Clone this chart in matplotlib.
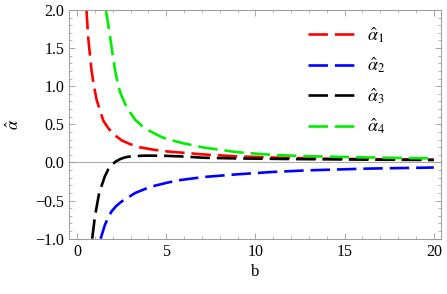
import numpy as np
import matplotlib.pyplot as plt
from matplotlib.ticker import MultipleLocator

# values
b_red = [0.53, 0.62, 0.81, 0.95, 1.10, 1.47, 1.75, 2.03, 2.5, 2.98, 3.5, 4.29, 5.24, 5.8, 7.12, 9.0, 11.45, 14.0, 17.0, 20.0]
a_red = [2.0, 1.65, 1.21, 1.0, 0.82, 0.55, 0.45, 0.375, 0.29, 0.24, 0.2, 0.167, 0.14, 0.13, 0.105, 0.08, 0.062, 0.05, 0.042, 0.036]

b_blue = [1.32, 1.56, 1.75, 1.94, 2.2, 2.51, 3.26, 4.1, 5.05, 5.8, 7.12, 9.0, 10.9, 12.96, 16.35, 20.0]
a_blue = [-1.0, -0.82, -0.72, -0.64, -0.57, -0.51, -0.40, -0.32, -0.265, -0.23, -0.19, -0.155, -0.125, -0.103, -0.08, -0.066]

b_black = [0.85, 1.0, 1.24, 1.56, 1.75, 1.94, 2.15, 2.41, 2.7, 3.07, 3.8, 4.86, 5.8, 7.12, 9.0, 12.58, 16.0, 20.0]
a_black = [-1.0, -0.71, -0.40, -0.18, -0.09, -0.035, 0.01, 0.044, 0.068, 0.082, 0.09, 0.088, 0.08, 0.062, 0.053, 0.044, 0.038, 0.033]

b_green = [1.62, 1.85, 2.0, 2.13, 2.32, 2.45, 2.6, 2.79, 3.26, 3.64, 4.1, 4.77, 5.24, 5.99, 7.12, 9.0, 10.9, 12.96, 16.35, 20.0]
a_green = [2.0, 1.65, 1.41, 1.21, 1.0, 0.9, 0.82, 0.72, 0.56, 0.48, 0.41, 0.33, 0.295, 0.25, 0.195, 0.135, 0.10, 0.082, 0.066, 0.053]

labels = [r'$\hat{\alpha}_1$', r'$\hat{\alpha}_2$', r'$\hat{\alpha}_3$', r'$\hat{\alpha}_4$']

plt.rcParams['font.family'] = ['Liberation Serif', 'DejaVu Serif']
plt.rcParams['mathtext.fontset'] = 'stix'
plt.rcParams['lines.scale_dashes'] = False

fig = plt.figure(figsize=(4.47, 2.94), dpi=100)
ax = fig.add_axes([0.1544, 0.188, 0.832, 0.778])

ax.axhline(0, color='#aaaaaa', lw=0.8, zorder=1)
dash = (14, 5)
lw = 1.9
ax.plot(b_red, a_red, color='#ff0000', lw=lw, dashes=dash, label=labels[0])
ax.plot(b_blue, a_blue, color='#0000ff', lw=lw, dashes=dash, label=labels[1])
ax.plot(b_black, a_black, color='#000000', lw=lw, dashes=dash, label=labels[2])
ax.plot(b_green, a_green, color='#00ee00', lw=lw, dashes=dash, label=labels[3])

ax.set_xlim(-0.45, 20.4)
ax.set_ylim(-1.0, 2.0)
ax.xaxis.set_major_locator(MultipleLocator(5))
ax.xaxis.set_minor_locator(MultipleLocator(1))
ax.yaxis.set_major_locator(MultipleLocator(0.5))
ax.yaxis.set_minor_locator(MultipleLocator(0.1))
ax.tick_params(which='both', direction='in', top=True, right=True, color='#999999', labelsize=11.5)
ax.tick_params(which='major', length=4, width=0.6)
ax.tick_params(which='minor', length=2.2, width=0.5)
for s in ax.spines.values():
    s.set_color('#999999')
    s.set_linewidth(0.7)

ax.set_xlabel('b', fontsize=12, labelpad=3)
ax.set_ylabel(r'$\hat{\alpha}$', fontsize=12, labelpad=9)

leg = ax.legend(loc='upper right', bbox_to_anchor=(0.895, 1.005), frameon=False, fontsize=13,
                handlelength=2.7, handletextpad=0.6, labelspacing=0.6)

plt.savefig('out.png', dpi=100)
